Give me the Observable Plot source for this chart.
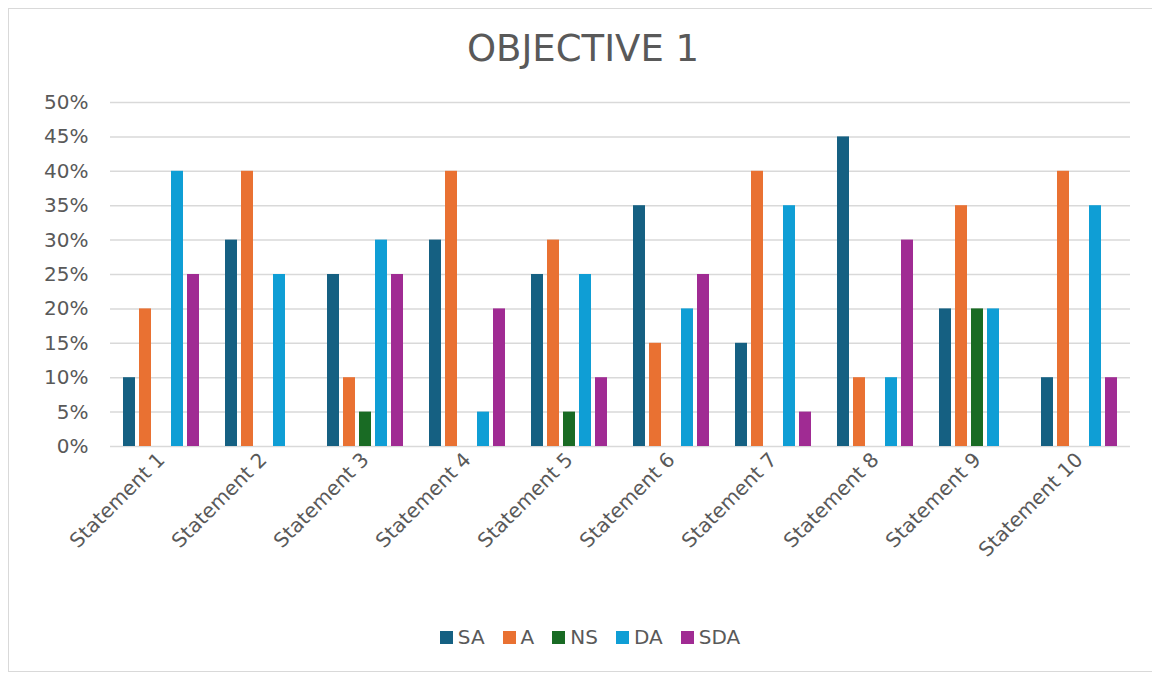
<!DOCTYPE html>
<html>
<head>
<meta charset="utf-8">
<script src="https://cdn.jsdelivr.net/npm/d3@7"></script>
<script src="https://cdn.jsdelivr.net/npm/@observablehq/plot@0.6"></script>
<style>
  html, body { margin: 0; padding: 0; background: #fff; }
  body { width: 1152px; height: 673px; position: relative; overflow: hidden; font-family: "DejaVu Sans", sans-serif; }
  #frame { position: absolute; left: 8px; top: 8px; width: 1150px; height: 664px; border: 1px solid #d9d9d9; box-sizing: border-box; }
  #title { position: absolute; left: 0; top: 27px; width: 1166px; text-align: center; font-size: 37px; color: #595959; line-height: 44px; }
  #chart { position: absolute; left: 0; top: 0; }
  #legend { position: absolute; left: 0; top: 625px; width: 1180px; display: flex; justify-content: center; align-items: center; font-size: 20px; color: #595959; }
  .sw { display: inline-flex; align-items: center; margin: 0 9px; }
  .sq { width: 13px; height: 13px; margin-right: 5px; display: inline-block; }
</style>
</head>
<body>
<div id="frame"></div>
<div id="title">OBJECTIVE 1</div>
<div id="chart"></div>
<div id="legend"></div>
<script>
const statements = ["Statement 1","Statement 2","Statement 3","Statement 4","Statement 5","Statement 6","Statement 7","Statement 8","Statement 9","Statement 10"];
const series = ["SA","A","NS","DA","SDA"];
const colors = ["#156082","#E97132","#196B24","#0F9ED5","#A02B93"];
const SA  = [0.10,0.30,0.25,0.30,0.25,0.35,0.15,0.45,0.20,0.10];
const A   = [0.20,0.40,0.10,0.40,0.30,0.15,0.40,0.10,0.35,0.40];
const NS  = [0.00,0.00,0.05,0.00,0.05,0.00,0.00,0.00,0.20,0.00];
const DA  = [0.40,0.25,0.30,0.05,0.25,0.20,0.35,0.10,0.20,0.35];
const SDA = [0.25,0.00,0.25,0.20,0.10,0.25,0.05,0.30,0.00,0.10];
const yTicks = [0,0.05,0.10,0.15,0.20,0.25,0.30,0.35,0.40,0.45,0.50];

const valuesBySeries = {SA, A, NS, DA, SDA};
const data = [];
statements.forEach((s, i) => series.forEach(k => data.push({statement: s, series: k, value: valuesBySeries[k][i]})));

const chart = Plot.plot({
  width: 1152,
  height: 600,
  marginTop: 102,
  marginLeft: 108,
  marginRight: 21,
  marginBottom: 154,
  style: {fontFamily: "DejaVu Sans, sans-serif", fontSize: "20px", color: "#595959", background: "transparent"},
  fx: {domain: statements, padding: 0, label: null, axis: null},
  x: {domain: series, paddingInner: 0.23, paddingOuter: 0.78, axis: null},
  y: {domain: [0, 0.5], label: null, axis: null},
  color: {domain: series, range: colors},
  marks: [
    Plot.ruleY(yTicks, {stroke: "#d9d9d9", strokeWidth: 1.5}),
    Plot.barY(data, {fx: "statement", x: "series", y: "value", fill: "series"}),
    Plot.axisY({ticks: yTicks, tickFormat: d => Math.round(d * 100) + "%", tickSize: 0, tickPadding: 22, fontSize: 20, fill: "#595959", label: null}),
    Plot.axisFx({anchor: "bottom", tickRotate: -45, tickSize: 0, tickPadding: 10, fontSize: 20, fill: "#595959", label: null})
  ]
});
document.getElementById("chart").appendChild(chart);

const legend = document.getElementById("legend");
series.forEach((s, i) => {
  const el = document.createElement("span");
  el.className = "sw";
  el.innerHTML = `<span class="sq" style="background:${colors[i]}"></span><span>${s}</span>`;
  legend.appendChild(el);
});
</script>
</body>
</html>
